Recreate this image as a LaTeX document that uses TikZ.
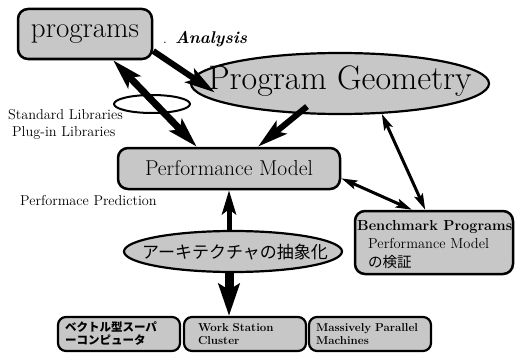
\documentclass[tikz,border=0pt]{standalone}
\usepackage{fontspec}
\newfontfamily\jpfont{Noto Sans CJK JP}
\usetikzlibrary{shapes.geometric, positioning, arrows.meta, calc}
\tikzset{
  roundbox/.style={rectangle, rounded corners=10pt, draw=black, line width=2.5pt, fill=black!22, inner sep=0pt},
  oval/.style={ellipse, draw=black, line width=2.2pt, fill=black!22, inner sep=0pt},
  hwbox/.style={rectangle, rounded corners=8pt, draw=black, line width=2.2pt, fill=black!22, minimum height=34pt, inner xsep=7pt, text width=108pt, align=left, font=\fontsize{11.5}{13}\selectfont\bfseries},
  note/.style={font=\fontsize{14.3}{18}\selectfont, inner sep=0pt},
  bigarrow/.style={line width=6pt, -{Stealth[length=30pt,width=16pt,inset=6pt]}},
  dblarrow/.style={line width=7pt, {Stealth[length=30pt,width=17pt,inset=6pt]}-{Stealth[length=30pt,width=17pt,inset=6pt]}},
  thinarrow/.style={line width=3pt, {Stealth[length=16pt,width=9pt,inset=3pt]}-{Stealth[length=16pt,width=9pt,inset=3pt]}},
  uparrow/.style={line width=5pt, -{Stealth[length=24pt,width=14pt,inset=5pt]}},
  fatarrow/.style={line width=9pt, -{Stealth[length=32pt,width=21pt,inset=6pt]}}
}
\begin{document}
\begin{tikzpicture}[x=1pt, y=-1pt]
        \useasboundingbox (0,0) rectangle (516,353);

        % Programme und Analyse
        \node (prog) [roundbox, minimum width=134pt, minimum height=50pt, font=\fontsize{29}{34}\selectfont] at (85,34) {programs};
        \node (ana) [inner sep=0pt, font=\fontsize{17}{21}\selectfont] at (205,39) {.\hspace{8pt}\textbf{\textit{Analysis}}};
        \node (geo) [oval, minimum width=298pt, minimum height=61pt] at (340,83.5) {};
        \node (geotxt) [inner sep=0pt, font=\fontsize{34}{40}\selectfont] at (340,81) {Program Geometry};

        % Bibliotheken
        \node (libs) [ellipse, draw=black, line width=2pt, minimum width=76pt, minimum height=18pt, inner sep=0pt] at (152,104) {};
        \node (stdlib) [note, anchor=west] at (8,115) {Standard Libraries};
        \node (pluglib) [note, anchor=west] at (12,133) {Plug-in Libraries};

        % Modell
        \node (perf) [roundbox, minimum width=222pt, minimum height=41pt, font=\fontsize{21.5}{26}\selectfont] at (229,168.5) {Performance Model};
        \node (pred) [note, anchor=west] at (20,201) {Performace Prediction};
        \node (arch) [oval, minimum width=218pt, minimum height=41pt] at (233,251.5) {};
        \node (archtxt) [inner sep=0pt, font=\jpfont\fontsize{17}{20}\selectfont] at (235,252) {アーキテクチャの抽象化};

        % Benchmark
        \node (bench) [roundbox, minimum width=158pt, minimum height=63pt] at (434,242.5) {};
        \node (benchtxt) [anchor=north west, align=left, inner sep=0pt, font=\fontsize{14.5}{18.5}\selectfont] at (357,220) {\textbf{Benchmark Programs}\\ \hspace*{11pt}Performance Model\\ \hspace*{11pt}{\jpfont の検証}};

        % Rechner
        \node (vec) [hwbox] at (119,334) {{\jpfont ベクトル型スーパ\\ーコンピュータ}};
        \node (ws) [hwbox, text width=94pt, inner xsep=14pt] at (245,334) {Work Station\\Cluster};
        \node (mpp) [hwbox] at (370,334) {Massively Parallel\\Machines};

        % Pfeile
        \draw [bigarrow] (prog.-14) -- ([xshift=25pt,yshift=-9pt]geo.west);
        \draw [dblarrow] (prog.-43) -- (perf.146);
        \draw [bigarrow] ($(geo.center)+(-33,23)$) -- (perf.37);
        \draw [thinarrow] (geo.-36) -- (bench.105);
        \draw [thinarrow] (perf.-5) -- (bench.124);
        \draw [uparrow] (arch.north -| perf.south) -- (perf.south);
        \draw [fatarrow] (arch.south -| perf.south) -- (perf.south |- ws.north);

\end{tikzpicture}
\end{document}
